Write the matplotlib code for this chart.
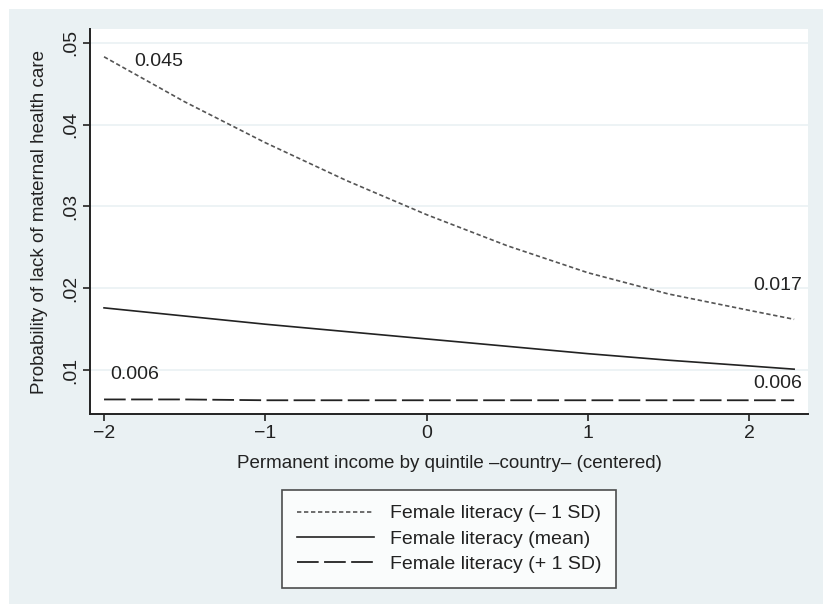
import matplotlib
matplotlib.use("Agg")
import matplotlib.pyplot as plt
from matplotlib.patches import Rectangle
from matplotlib.ticker import FuncFormatter

plt.rcParams['font.family'] = ['Liberation Sans', 'DejaVu Sans']

# income points (centered quintile) and predicted probabilities
income = [-2, -1.5, -1, -0.5, 0, 0.5, 1, 1.5, 2, 2.28]
lit_minus = [0.0483, 0.0428, 0.0378, 0.0332, 0.0290, 0.0252, 0.0219, 0.0193, 0.0173, 0.0162]
lit_mean = [0.0176, 0.0166, 0.0156, 0.0147, 0.0138, 0.0129, 0.0120, 0.0112, 0.0105, 0.0101]
lit_plus = [0.0064, 0.0064, 0.0063, 0.0063, 0.0063, 0.0063, 0.0063, 0.0063, 0.0063, 0.0063]

labels = ["Female literacy (\u2013 1 SD)", "Female literacy (mean)", "Female literacy (+ 1 SD)"]
xticks = [-2, -1, 0, 1, 2]
yticks = [0.01, 0.02, 0.03, 0.04, 0.05]

bg = '#EAF1F3'
fig = plt.figure(figsize=(8.23, 6.04), dpi=100, facecolor='white')
fig.patches.append(Rectangle((9/823, 0), 1, 1 - 9/604, transform=fig.transFigure,
                             facecolor=bg, edgecolor='none', zorder=-10))
ax = fig.add_axes([90/823, 1 - 414/604, (808 - 90)/823, (414 - 29)/604])
ax.set_facecolor('white')

l1, = ax.plot(income, lit_minus, color='#555555', lw=1.2, linestyle=(0, (2.6, 1.6)))
l2, = ax.plot(income, lit_mean, color='#222222', lw=1.2, linestyle='-')
l3, = ax.plot(income, lit_plus, color='#222222', lw=1.3, linestyle=(0, (12, 3)))

# value labels
ax.text(-1.81, 0.0477, "0.045", fontsize=14, va='center', ha='left', color='#222222')
ax.text(2.33, 0.0203, "0.017", fontsize=14, va='center', ha='right', color='#222222')
ax.text(-1.96, 0.0095, "0.006", fontsize=14, va='center', ha='left', color='#222222')
ax.text(2.33, 0.0083, "0.006", fontsize=14, va='center', ha='right', color='#222222')

ax.set_xlim(-2.087, 2.366)
ax.set_ylim(0.00462, 0.0517)
ax.set_xticks(xticks)
ax.set_yticks(yticks)
ax.xaxis.set_major_formatter(FuncFormatter(lambda v, p: ("%d" % v).replace('-', '\u2212')))
ax.yaxis.set_major_formatter(FuncFormatter(lambda v, p: ("%.2f" % v).lstrip('0')))
for t in ax.get_yticklabels():
    t.set_rotation(90)
    t.set_va('center')
ax.tick_params(axis='both', direction='out', length=5, width=1.2, labelsize=14,
               colors='#222222', pad=3)
ax.grid(axis='y', color=bg, lw=1.2)
ax.set_axisbelow(True)
for s in ['top', 'right']:
    ax.spines[s].set_visible(False)
for s in ['left', 'bottom']:
    ax.spines[s].set_linewidth(1.4)
    ax.spines[s].set_color('#222222')

ax.set_ylabel("Probability of lack of maternal health care", fontsize=13.5, color='#222222', labelpad=10)
ax.set_xlabel("Permanent income by quintile \u2013country\u2013 (centered)", fontsize=13.5,
              color='#222222', labelpad=9)

leg = fig.legend([l1, l2, l3], labels, loc='center', bbox_to_anchor=(449/823, 1 - 539/604),
                 fontsize=14, frameon=True, fancybox=False, handlelength=4.0,
                 handletextpad=0.8, labelspacing=0.4, borderpad=0.75)
leg.get_frame().set_edgecolor('#222222')
leg.get_frame().set_linewidth(1.2)
for t in leg.get_texts():
    t.set_color('#222222')

fig.savefig("out.png", dpi=100, facecolor=fig.get_facecolor())
